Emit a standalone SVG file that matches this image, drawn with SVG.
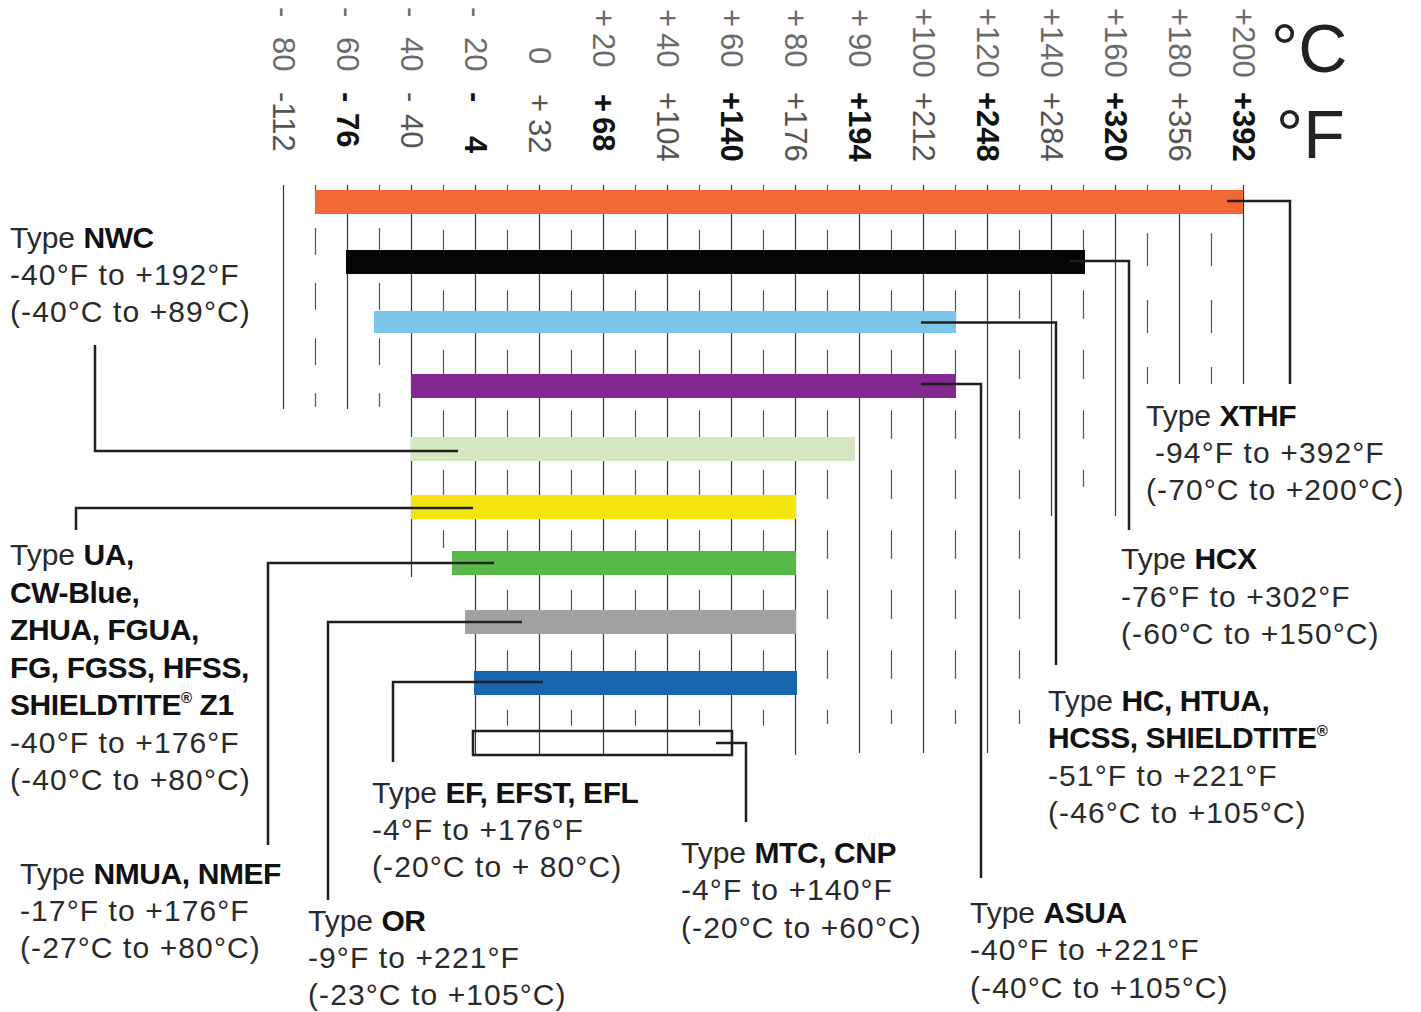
<svg xmlns="http://www.w3.org/2000/svg" width="1421" height="1012" viewBox="0 0 1421 1012">
<style>
.t{font-family:"Liberation Sans",Arial,sans-serif;font-size:30px;fill:#2a2a2a}
.b{font-weight:bold;fill:#111;letter-spacing:-0.4px}
.r{letter-spacing:1.1px}
.ax{font-family:"Liberation Sans",Arial,sans-serif;font-size:31px}
.c{fill:#6b6b6b}
.fl{fill:#555}
.fb{fill:#111;font-weight:bold}
.u{font-family:"Liberation Sans",Arial,sans-serif;font-size:68px;fill:#222}
.g{stroke:#1f4528;stroke-width:1.2}
.d1{stroke:#3a6342;stroke-width:1.2;stroke-dasharray:27 28;stroke-dashoffset:12}
.d2{stroke:#3a6342;stroke-width:1.2;stroke-dasharray:29 31;stroke-dashoffset:15}
.d3{stroke:#3a6342;stroke-width:1.2;stroke-dasharray:33 34;stroke-dashoffset:19}
.k{fill:none;stroke:#231f20;stroke-width:2.5}
</style>

<g id="axis-celsius">
<text class="ax c" transform="translate(272.5,0) rotate(90)"><tspan x="7">- </tspan><tspan x="37">80</tspan></text>
<text class="ax c" transform="translate(336.5,0) rotate(90)"><tspan x="7">- </tspan><tspan x="37">60</tspan></text>
<text class="ax c" transform="translate(400.5,0) rotate(90)"><tspan x="7">- </tspan><tspan x="37">40</tspan></text>
<text class="ax c" transform="translate(464.5,0) rotate(90)"><tspan x="7">- </tspan><tspan x="37">20</tspan></text>
<text class="ax c" transform="translate(528.5,0) rotate(90)" x="47">0</text>
<text class="ax c" transform="translate(592.5,0) rotate(90)"><tspan x="9">+ </tspan><tspan x="33">20</tspan></text>
<text class="ax c" transform="translate(656.5,0) rotate(90)"><tspan x="9">+ </tspan><tspan x="33">40</tspan></text>
<text class="ax c" transform="translate(720.5,0) rotate(90)"><tspan x="9">+ </tspan><tspan x="33">60</tspan></text>
<text class="ax c" transform="translate(784.5,0) rotate(90)"><tspan x="9">+ </tspan><tspan x="33">80</tspan></text>
<text class="ax c" transform="translate(848.5,0) rotate(90)"><tspan x="9">+ </tspan><tspan x="33">90</tspan></text>
<text class="ax c" transform="translate(912.5,0) rotate(90)" x="8">+100</text>
<text class="ax c" transform="translate(976.5,0) rotate(90)" x="8">+120</text>
<text class="ax c" transform="translate(1040.5,0) rotate(90)" x="8">+140</text>
<text class="ax c" transform="translate(1104.5,0) rotate(90)" x="8">+160</text>
<text class="ax c" transform="translate(1168.5,0) rotate(90)" x="8">+180</text>
<text class="ax c" transform="translate(1232.5,0) rotate(90)" x="8">+200</text>
<text class="u" x="1271" y="72">°C</text>
</g>

<g id="axis-fahrenheit">
<text class="ax fl" transform="translate(272.5,0) rotate(90)" x="92">-112</text>
<text class="ax fb" transform="translate(336.5,0) rotate(90)"><tspan x="92">- </tspan><tspan x="113">76</tspan></text>
<text class="ax fl" transform="translate(400.5,0) rotate(90)"><tspan x="92">- </tspan><tspan x="114">40</tspan></text>
<text class="ax fb" transform="translate(464.5,0) rotate(90)"><tspan x="92">- </tspan><tspan x="136">4</tspan></text>
<text class="ax fl" transform="translate(528.5,0) rotate(90)"><tspan x="94">+ </tspan><tspan x="119">32</tspan></text>
<text class="ax fb" transform="translate(592.5,0) rotate(90)"><tspan x="94">+ </tspan><tspan x="117">68</tspan></text>
<text class="ax fl" transform="translate(656.5,0) rotate(90)" x="92">+104</text>
<text class="ax fb" transform="translate(720.5,0) rotate(90)" x="92">+140</text>
<text class="ax fl" transform="translate(784.5,0) rotate(90)" x="92">+176</text>
<text class="ax fb" transform="translate(848.5,0) rotate(90)" x="92">+194</text>
<text class="ax fl" transform="translate(912.5,0) rotate(90)" x="92">+212</text>
<text class="ax fb" transform="translate(976.5,0) rotate(90)" x="92">+248</text>
<text class="ax fl" transform="translate(1040.5,0) rotate(90)" x="92">+284</text>
<text class="ax fb" transform="translate(1104.5,0) rotate(90)" x="92">+320</text>
<text class="ax fl" transform="translate(1168.5,0) rotate(90)" x="92">+356</text>
<text class="ax fb" transform="translate(1232.5,0) rotate(90)" x="92">+392</text>
<text class="u" x="1276" y="158">°F</text>
</g>

<g id="grid">
<line class="g" x1="283.5" y1="185" x2="283.5" y2="409"/>
<line class="g" x1="347.5" y1="185" x2="347.5" y2="409"/>
<line class="g" x1="411.5" y1="185" x2="411.5" y2="577"/>
<line class="g" x1="475.5" y1="185" x2="475.5" y2="755"/>
<line class="g" x1="539.5" y1="185" x2="539.5" y2="755"/>
<line class="g" x1="603.5" y1="185" x2="603.5" y2="755"/>
<line class="g" x1="667.5" y1="185" x2="667.5" y2="755"/>
<line class="g" x1="731.5" y1="185" x2="731.5" y2="755"/>
<line class="g" x1="795.5" y1="185" x2="795.5" y2="755"/>
<line class="g" x1="859.5" y1="185" x2="859.5" y2="753"/>
<line class="g" x1="923.5" y1="185" x2="923.5" y2="753"/>
<line class="g" x1="987.5" y1="185" x2="987.5" y2="753"/>
<line class="g" x1="1051.5" y1="185" x2="1051.5" y2="516"/>
<line class="g" x1="1115.5" y1="185" x2="1115.5" y2="516"/>
<line class="g" x1="1179.5" y1="185" x2="1179.5" y2="384"/>
<line class="g" x1="1243.5" y1="185" x2="1243.5" y2="384"/>
<line class="d1" x1="315.5" y1="185" x2="315.5" y2="407"/>
<line class="d1" x1="379.5" y1="185" x2="379.5" y2="407"/>
<line class="d2" x1="443.5" y1="185" x2="443.5" y2="548"/>
<line class="d2" x1="507.5" y1="185" x2="507.5" y2="726"/>
<line class="d2" x1="571.5" y1="185" x2="571.5" y2="726"/>
<line class="d2" x1="635.5" y1="185" x2="635.5" y2="726"/>
<line class="d2" x1="699.5" y1="185" x2="699.5" y2="726"/>
<line class="d2" x1="763.5" y1="185" x2="763.5" y2="726"/>
<line class="d2" x1="827.5" y1="185" x2="827.5" y2="724"/>
<line class="d2" x1="891.5" y1="185" x2="891.5" y2="724"/>
<line class="d2" x1="955.5" y1="185" x2="955.5" y2="724"/>
<line class="d2" x1="1019.5" y1="185" x2="1019.5" y2="724"/>
<line class="d2" x1="1083.5" y1="185" x2="1083.5" y2="487"/>
<line class="d3" x1="1147.5" y1="185" x2="1147.5" y2="384"/>
<line class="d3" x1="1211.5" y1="185" x2="1211.5" y2="384"/>
</g>

<g id="bars">
<rect id="bar-xthf" x="315" y="190" width="928" height="24" fill="#F26835"/>
<rect id="bar-hcx" x="346" y="250" width="739" height="24" fill="#050505"/>
<rect id="bar-hc" x="374" y="311" width="582" height="22" fill="#7BC4EA"/>
<rect id="bar-asua" x="411" y="374" width="545" height="24" fill="#812990"/>
<rect id="bar-nwc" x="411" y="437" width="444" height="24" fill="#D4E7BF"/>
<rect id="bar-ua" x="411" y="495" width="385" height="24" fill="#F4E60C"/>
<rect id="bar-nmua" x="452" y="551" width="344" height="24" fill="#58B947"/>
<rect id="bar-or" x="465" y="610" width="331" height="24" fill="#A0A2A1"/>
<rect id="bar-ef" x="474" y="671" width="323" height="24" fill="#1766AE"/>
<rect id="bar-mtc" x="473" y="731" width="259" height="24" fill="none" stroke="#231f20" stroke-width="2.5"/>
</g>

<g id="connectors">
<path class="k" d="M1227,201 H1290 V384"/>
<path class="k" d="M1070,261 H1129 V530"/>
<path class="k" d="M921,322.5 H1056 V665"/>
<path class="k" d="M921,384 H981 V878"/>
<path class="k" d="M95,345 V451 H458"/>
<path class="k" d="M76,530 V508 H473"/>
<path class="k" d="M268,845 V563 H494"/>
<path class="k" d="M328,900 V622 H522"/>
<path class="k" d="M393,762 V682 H543"/>
<path class="k" d="M716,743 H746 V822"/>
</g>

<g id="label-nwc">
<text class="t" x="10" y="248">Type <tspan class="b">NWC</tspan></text>
<text class="t r" x="10" y="285">-40°F to +192°F</text>
<text class="t r" x="10" y="322">(-40°C to +89°C)</text>
</g>
<g id="label-ua">
<text class="t" x="10" y="565">Type <tspan class="b">UA,</tspan></text>
<text class="t b" x="10" y="603">CW-Blue,</text>
<text class="t b" x="10" y="640">ZHUA, FGUA,</text>
<text class="t b" x="10" y="678">FG, FGSS, HFSS,</text>
<text class="t b" x="10" y="715">SHIELDTITE<tspan font-size="15" dy="-12">®</tspan><tspan dy="12"> Z1</tspan></text>
<text class="t r" x="10" y="753">-40°F to +176°F</text>
<text class="t r" x="10" y="790">(-40°C to +80°C)</text>
</g>
<g id="label-nmua">
<text class="t" x="20" y="884">Type <tspan class="b">NMUA, NMEF</tspan></text>
<text class="t r" x="20" y="921">-17°F to +176°F</text>
<text class="t r" x="20" y="958">(-27°C to +80°C)</text>
</g>
<g id="label-or">
<text class="t" x="308" y="931">Type <tspan class="b">OR</tspan></text>
<text class="t r" x="308" y="968">-9°F to +221°F</text>
<text class="t r" x="308" y="1005">(-23°C to +105°C)</text>
</g>
<g id="label-ef">
<text class="t" x="372" y="803">Type <tspan class="b">EF, EFST, EFL</tspan></text>
<text class="t r" x="372" y="840">-4°F to +176°F</text>
<text class="t r" x="372" y="877">(-20°C to + 80°C)</text>
</g>
<g id="label-mtc">
<text class="t" x="681" y="863">Type <tspan class="b">MTC, CNP</tspan></text>
<text class="t r" x="681" y="900">-4°F to +140°F</text>
<text class="t r" x="681" y="938">(-20°C to +60°C)</text>
</g>
<g id="label-asua">
<text class="t" x="970" y="923">Type <tspan class="b">ASUA</tspan></text>
<text class="t r" x="970" y="960">-40°F to +221°F</text>
<text class="t r" x="970" y="998">(-40°C to +105°C)</text>
</g>
<g id="label-hc">
<text class="t" x="1048" y="711">Type <tspan class="b">HC, HTUA,</tspan></text>
<text class="t b" x="1048" y="748">HCSS, SHIELDTITE<tspan font-size="15" dy="-12">®</tspan></text>
<text class="t r" x="1048" y="786">-51°F to +221°F</text>
<text class="t r" x="1048" y="823">(-46°C to +105°C)</text>
</g>
<g id="label-hcx">
<text class="t" x="1121" y="569">Type <tspan class="b">HCX</tspan></text>
<text class="t r" x="1121" y="607">-76°F to +302°F</text>
<text class="t r" x="1121" y="644">(-60°C to +150°C)</text>
</g>
<g id="label-xthf">
<text class="t" x="1146" y="426">Type <tspan class="b">XTHF</tspan></text>
<text class="t r" x="1155" y="463">-94°F to +392°F</text>
<text class="t r" x="1146" y="500">(-70°C to +200°C)</text>
</g>
</svg>
